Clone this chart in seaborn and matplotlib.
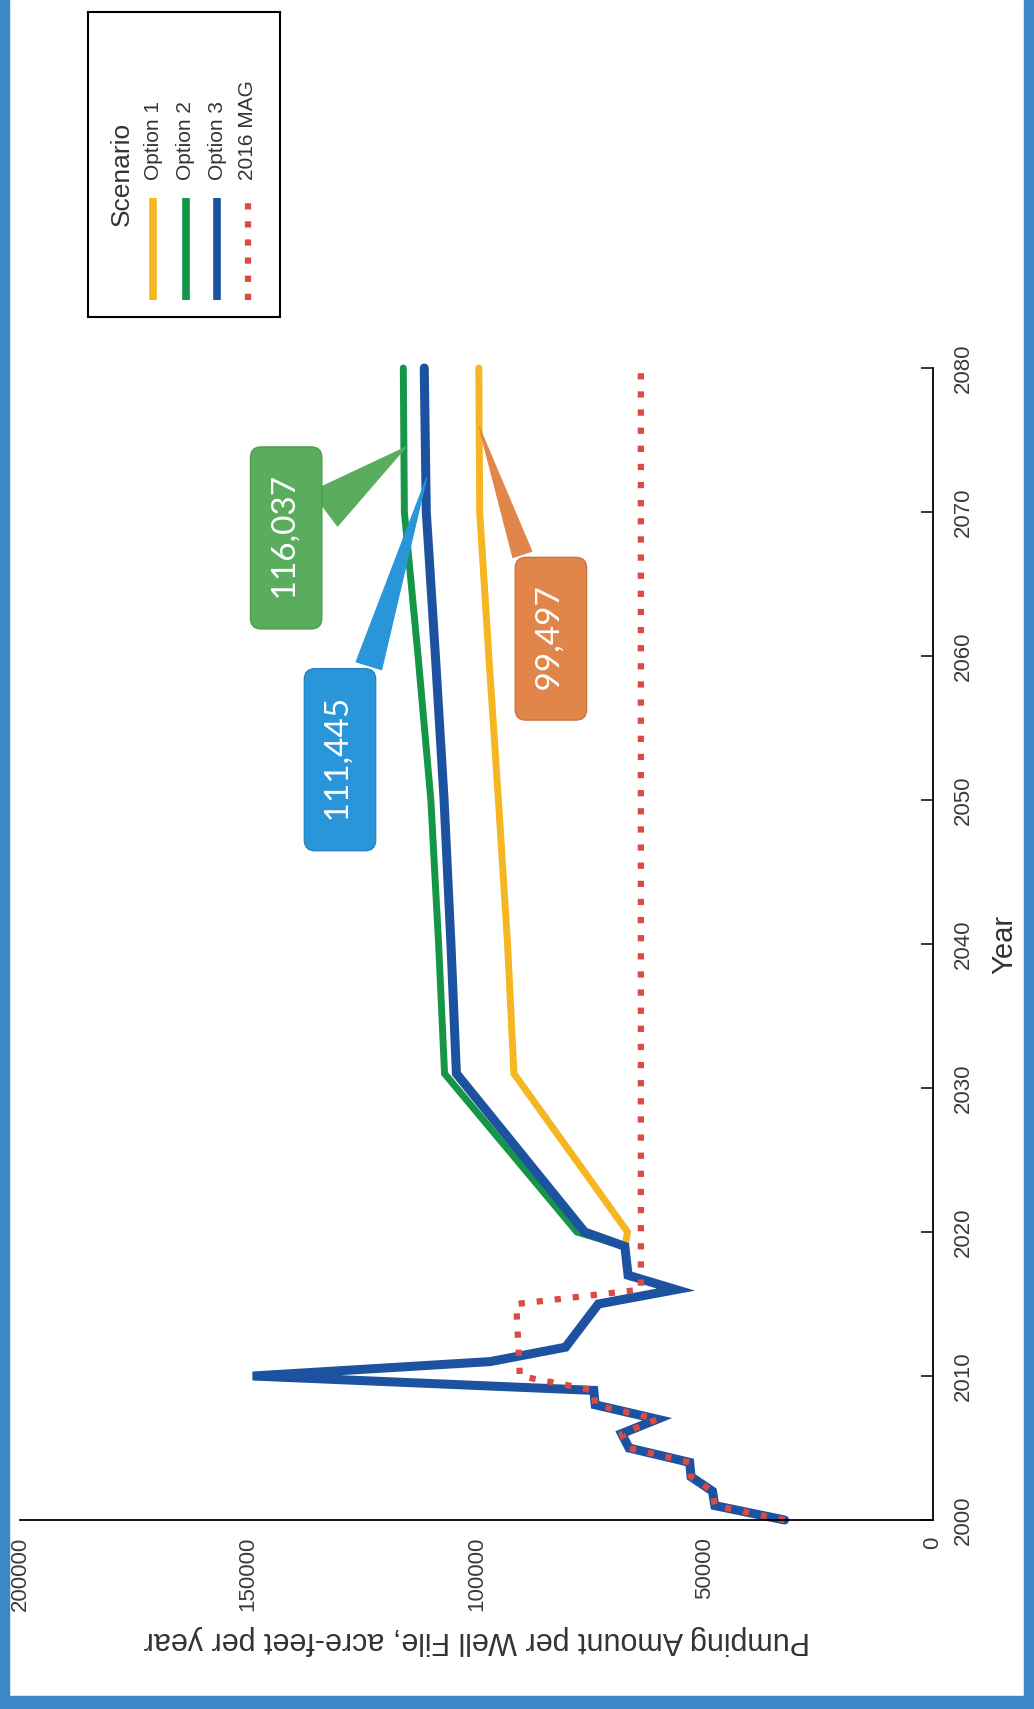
import seaborn as sns
import pandas as pd
import matplotlib.pyplot as plt
from matplotlib.patches import Rectangle

# Datos (acre-pies por ano)
hist_years = [2000, 2001, 2002, 2003, 2004, 2005, 2006, 2007, 2008, 2009,
              2010, 2011, 2012, 2015, 2016, 2017, 2019]
hist_values = [32500, 47800, 48300, 53000, 53300, 66600, 68200, 60400, 74000, 74300,
               149000, 97000, 80500, 73300, 56300, 66800, 67500]

proj_years = [2020, 2031, 2040, 2050, 2060, 2070, 2080]
option1 = [66900, 91800, 93200, 95200, 97300, 99300, 99497]
option2 = [78000, 107000, 108300, 110000, 112800, 115800, 116037]
option3 = [76300, 104400, 105600, 107100, 109000, 111000, 111445]

mag_years = [2010, 2015, 2016, 2080]
mag_values = [90500, 91300, 64000, 64000]

scenarios = ['Option 1', 'Option 2', 'Option 3', '2016 MAG']
colors = ['#F5B622', '#149646', '#1D52A0', '#DB4A43']

value_ticks = [0, 50000, 100000, 150000, 200000]
year_ticks = [2000, 2010, 2020, 2030, 2040, 2050, 2060, 2070, 2080]

# DataFrame largo
rows = []
for name, proj in zip(scenarios[:3], [option1, option2, option3]):
    for y, v in zip(hist_years + proj_years, hist_values + proj):
        rows.append((name, y, v))
for y, v in zip(hist_years[:10] + mag_years, hist_values[:10] + mag_values):
    rows.append(('2016 MAG', y, v))
df = pd.DataFrame(rows, columns=['scenario', 'year', 'value'])

sns.set_style('white')
plt.rcParams['font.family'] = ['Liberation Sans', 'DejaVu Sans']

W, H = 1034, 1709
fig = plt.figure(figsize=(W / 100, H / 100), dpi=100)
fig.patch.set_facecolor('white')

# grafico girado: valores hacia la izquierda, anos hacia arriba
ax = fig.add_axes([20 / W, 1 - 1520 / H, 913 / W, 1152 / H])

widths = [5.0, 5.0, 6.5, 4.5]
styles = ['-', '-', '-', (0, (1, 1.9))]
for name, color, lw, ls in zip(scenarios, colors, widths, styles):
    sns.lineplot(data=df[df['scenario'] == name], x='value', y='year', orient='y',
                 estimator=None, sort=True, color=color, linewidth=lw,
                 linestyle=ls, solid_joinstyle='miter', ax=ax, legend=False,
                 clip_on=False)

ax.set_xlim(200000, 0)
ax.set_ylim(2000, 2080)
ax.set_xticks(value_ticks)
ax.set_xticklabels([str(v) for v in value_ticks])
ax.set_yticks(year_ticks)
ax.set_yticklabels([str(y) for y in year_ticks])
ax.yaxis.tick_right()
ax.yaxis.set_label_position('right')

for side in ['left', 'top']:
    ax.spines[side].set_visible(False)
for side in ['bottom', 'right']:
    ax.spines[side].set_linewidth(1.3)
    ax.spines[side].set_color('black')

ax.tick_params(axis='x', direction='in', length=8.5, width=1.3, labelsize=16,
               labelrotation=90, pad=12, labelcolor='#3a3a3a')
ax.tick_params(axis='y', direction='in', length=8.5, width=1.3, labelsize=16,
               labelrotation=90, pad=14, labelcolor='#3a3a3a', right=True, left=False)
for lab in ax.get_yticklabels():
    lab.set_va('center')

ax.set_xlabel('Pumping Amount per Well File, acre-feet per year', rotation=180,
              fontsize=22, color='#333333', labelpad=10)
ax.set_ylabel('Year', rotation=90, fontsize=21, color='#333333', labelpad=12)

# Llamadas con los valores finales
callouts = [
    (option2[-1], (141700, 2068.2), (115500, 2074.5), '#5BAD5E', '#4E9A52', 1.3),
    (option3[-1], (129900, 2052.8), (110900, 2072.4), '#2896D8', '#2385C2', 0.8),
    (option1[-1], (83700, 2061.2), (99400, 2075.9), '#E1854B', '#C97440', 0.6),
]
for val, txt_pos, tip, fc, ec, tw in callouts:
    ax.annotate(f' {val:,} ', xy=tip, xytext=txt_pos, textcoords='data',
                rotation=90, ha='center', va='center', color='white',
                fontsize=24, family=['Lato', 'DejaVu Sans'],
                bbox=dict(boxstyle='round,pad=0.62,rounding_size=0.32', fc=fc, ec=ec, lw=1),
                arrowprops=dict(arrowstyle=f'wedge,tail_width={tw}', fc=fc, ec=fc, lw=0.8,
                                shrinkB=0),
                annotation_clip=False, zorder=5)

# Leyenda dibujada a mano (girada)
lax = fig.add_axes([88 / W, 1 - 317 / H, 192 / W, 305 / H])
lax.set_xlim(0, 1)
lax.set_ylim(0, 1)
lax.set_xticks([])
lax.set_yticks([])
lax.set_facecolor('white')
for s in lax.spines.values():
    s.set_visible(True)
    s.set_linewidth(1.5)
    s.set_color('black')
lax.text(0.177, 0.30, 'Scenario', rotation=90, rotation_mode='anchor',
         ha='left', va='center', fontsize=19, color='#333333')
row_x = [0.339, 0.510, 0.672, 0.833]
for x, name, color, ls in zip(row_x, scenarios, colors, styles):
    lax.plot([x, x], [0.056, 0.39], color=color, lw=5.5 if ls == '-' else 4.5,
             linestyle=ls, solid_capstyle='butt')
    lax.text(x, 0.449, name, rotation=90, rotation_mode='anchor',
             ha='left', va='center', fontsize=15, color='#333333')

# Marco azul del escaneo
border = '#3C87C8'
fig.add_artist(Rectangle((0, 0), 9 / W, 1, transform=fig.transFigure, color=border, zorder=0))
fig.add_artist(Rectangle((1 - 10 / W, 0), 10 / W, 1, transform=fig.transFigure, color=border, zorder=0))
fig.add_artist(Rectangle((0, 0), 1, 13 / H, transform=fig.transFigure, color=border, zorder=0))

fig.savefig('out.png', dpi=100)
